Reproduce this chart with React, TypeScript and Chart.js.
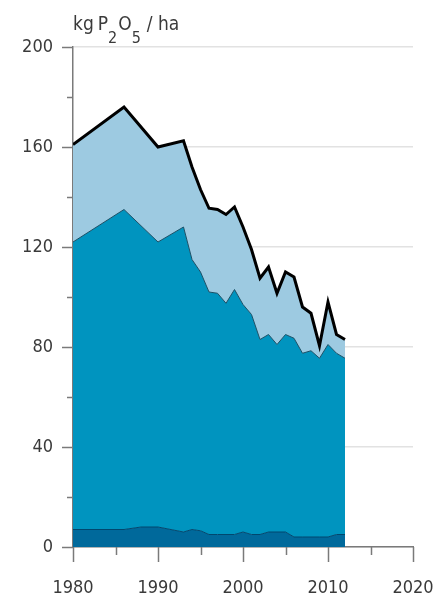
import React, { useEffect, useRef } from "react";
import { Chart, registerables } from "chart.js";

Chart.register(...registerables);

const years = [1980, 1986, 1988, 1990, 1993, 1994, 1995, 1996, 1997, 1998, 1999, 2000, 2001, 2002, 2003, 2004, 2005, 2006, 2007, 2008, 2009, 2010, 2011, 2012];
// cumulative boundaries
const bottomLayer = [7, 7, 8, 8, 6, 7, 6.5, 5, 5, 5, 5, 6, 5, 5, 6, 6, 6, 4, 4, 4, 4, 4, 5, 5];
const middleTop = [122, 135, 128.5, 122, 128, 115, 110, 102, 101.5, 97.5, 103, 97, 93, 83, 85, 81, 85, 83.5, 77.5, 78.5, 75.5, 81, 77.5, 75.5];
const totalTop = [161, 176, 168, 160, 162.5, 152, 143, 135.5, 135, 133, 136, 128, 119, 107.5, 112, 101.5, 110, 108, 96, 93.5, 80.5, 98, 85, 83];

const yMajorTicks = [0, 40, 80, 120, 160, 200];
const xMajorTicks = [1980, 1990, 2000, 2010, 2020];

const FONT = '"DejaVu Sans Condensed", "Liberation Sans", sans-serif';
const TEXT = "#3a3a3a";
const AXIS = "#7a7a7a";

const tickPlugin = {
  id: "tickMarks",
  afterDraw(chart: any) {
    const { ctx } = chart;
    const y = chart.scales.y;
    const x = chart.scales.x;
    ctx.save();
    ctx.strokeStyle = AXIS;
    ctx.lineWidth = 1.5;
    for (let v = 0; v <= 200; v += 20) {
      const py = Math.round(y.getPixelForValue(v)) + 0.5;
      const len = yMajorTicks.includes(v) ? 11 : 6;
      ctx.beginPath();
      ctx.moveTo(x.left - len, py);
      ctx.lineTo(x.left, py);
      ctx.stroke();
    }
    for (let v = 1980; v <= 2020; v += 5) {
      const px = Math.round(x.getPixelForValue(v)) + 0.5;
      const len = xMajorTicks.includes(v) ? 15 : 8;
      ctx.beginPath();
      ctx.moveTo(px, y.bottom);
      ctx.lineTo(px, y.bottom + len);
      ctx.stroke();
    }
    // axis title with subscripts
    ctx.fillStyle = TEXT;
    ctx.textBaseline = "alphabetic";
    ctx.textAlign = "left";
    const big = `19px ${FONT}`;
    const small = `16px ${FONT}`;
    const baseY = 30;
    const subY = 43;
    const parts: [string, string, number, number][] = [
      ["kg", big, baseY, 4],
      ["P", big, baseY, 0],
      ["2", small, subY, 1],
      ["O", big, baseY, 0],
      ["5", small, subY, 6],
      ["/ ha", big, baseY, 0],
    ];
    let cx = x.left;
    for (const [t, f, by, gap] of parts) {
      ctx.font = f;
      ctx.fillText(t, cx, by);
      cx += ctx.measureText(t).width + gap;
    }
    ctx.restore();
  },
};

export default function App() {
  const ref = useRef<HTMLCanvasElement | null>(null);
  useEffect(() => {
    document.body.style.margin = "0";
    const canvas = ref.current;
    if (!canvas) return;
    const mk = (vals: number[]) => years.map((yr, i) => ({ x: yr, y: vals[i] }));
    const chart = new Chart(canvas, {
      type: "line",
      data: {
        datasets: [
          {
            data: mk(bottomLayer),
            borderColor: "#00476e",
            borderWidth: 1,
            backgroundColor: "#00699b",
            fill: "origin",
            pointRadius: 0,
            tension: 0,
          },
          {
            data: mk(middleTop),
            borderColor: "#1b4f66",
            borderWidth: 1,
            backgroundColor: "#0094bf",
            fill: "-1",
            pointRadius: 0,
            tension: 0,
          },
          {
            data: mk(totalTop),
            borderColor: "#000000",
            borderWidth: 3,
            backgroundColor: "#9dcae1",
            fill: "-1",
            pointRadius: 0,
            tension: 0,
            borderJoinStyle: "miter",
          },
        ],
      },
      options: {
        animation: false,
        responsive: true,
        maintainAspectRatio: false,
        layout: { padding: { top: 47, right: 21, left: 0, bottom: 0 } },
        plugins: { legend: { display: false }, tooltip: { enabled: false } },
        scales: {
          x: {
            type: "linear",
            min: 1980,
            max: 2020,
            afterFit: (s: any) => {
              s.height = 51;
              s.paddingRight = 0;
              s.paddingLeft = 0;
            },
            ticks: {
              stepSize: 10,
              color: TEXT,
              font: { family: FONT, size: 18 },
              padding: 31,
              maxRotation: 0,
              callback: (v: any) => String(v),
            },
            grid: { display: false, drawTicks: false },
            border: { display: true, color: AXIS, width: 1.5 },
          },
          y: {
            min: 0,
            max: 200,
            afterFit: (s: any) => {
              s.width = 73;
            },
            ticks: {
              stepSize: 40,
              color: TEXT,
              font: { family: FONT, size: 18 },
              padding: 20,
            },
            grid: { color: "#e2e2e2", lineWidth: 1.5, drawTicks: false },
            border: { display: true, color: AXIS, width: 1.5 },
          },
        },
      },
      plugins: [tickPlugin],
    });
    return () => chart.destroy();
  }, []);
  return (
    <div style={{ width: 434, height: 598, position: "relative" }}>
      <canvas ref={ref} />
    </div>
  );
}
